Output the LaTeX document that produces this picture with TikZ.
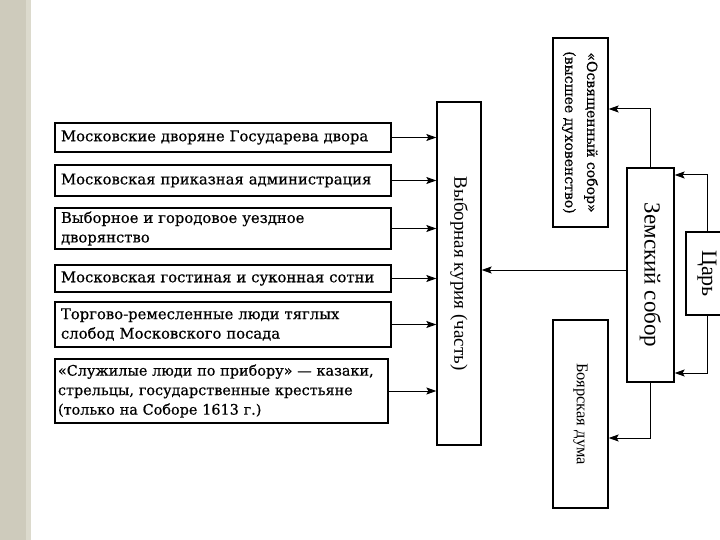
\documentclass[tikz,border=0pt]{standalone}
\usepackage{fontspec}
\setmainfont{Liberation Serif}
\newfontfamily\dvs[FakeBold=0.5]{DejaVu Serif}
\usetikzlibrary{arrows.meta}
\tikzset{
  lbox/.style={draw, line width=1.4pt, inner xsep=6pt, inner ysep=0pt, align=left,
     font=\dvs\fontsize{14.8}{19.5}\selectfont, minimum height=#1, anchor=center},
  vbox/.style={draw, line width=1.3pt, inner sep=0pt, anchor=center},
  arr/.style={line width=1pt, -{Stealth[length=10pt,width=7pt,inset=2pt]}},
}
\begin{document}
\begin{tikzpicture}[x=1pt,y=-1pt]
\useasboundingbox (0,0) rectangle (720,540);
\fill[white] (0,0) rectangle (720,540);
\fill[fill={rgb,255:red,206;green,203;blue,188}] (0,0) rectangle (26,540);
\fill[fill={rgb,255:red,220;green,218;blue,205}] (26,0) rectangle (31,540);

\node[lbox=29pt, text width=324pt] (b1) at (223,137.5) {Московские дворяне Государева двора};
\node[lbox=31pt, text width=324pt] (b2) at (223,180.5) {Московская приказная администрация};
\node[lbox=41pt, text width=324pt] (b3) at (223,228.5) {Выборное и городовое уездное\\дворянство};
\node[lbox=27pt, text width=324pt] (b4) at (223,278.5) {Московская гостиная и суконная сотни};
\node[lbox=45pt, text width=324pt] (b5) at (223,324.5) {Торгово-ремесленные люди тяглых\\слобод Московского посада};
\node[lbox=64pt, text width=327pt, inner xsep=3pt, font=\dvs\fontsize{14.4}{19.5}\selectfont] (b6) at (221.5,391) {«Служилые люди по прибору» — казаки,\\стрельцы, государственные крестьяне\\(только на Соборе 1613 г.)};

\node[vbox, minimum width=44pt, minimum height=343pt, font=\fontsize{19}{22}\selectfont] (cur) at (459,273.5) {\rotatebox{-90}{Выборная курия (часть)}};
\node[vbox, minimum width=47pt, minimum height=214pt, font=\fontsize{23}{25}\selectfont] (zem) at (650.5,275) {\rotatebox{-90}{Земский собор}};
\node[vbox, minimum width=55pt, minimum height=189pt, font=\dvs\fontsize{14}{22}\selectfont] (osv) at (580.5,132.5) {\rotatebox{-90}{\begin{tabular}{@{}c@{}}«Освященный собор»\\(высшее духовенство)\end{tabular}}};
\node[vbox, minimum width=55pt, minimum height=188pt, font=\fontsize{16.5}{18}\selectfont] (boy) at (580.5,414) {\rotatebox{-90}{Боярская дума}};
\node[vbox, minimum width=42pt, minimum height=83pt, font=\fontsize{22}{24}\selectfont] (tsar) at (707,273.5) {\rotatebox{-90}{Царь}};

\foreach \b in {b1,b2,b3,b4,b5,b6}
  \draw[arr] (\b.east) -- (\b.east -| cur.west);
\draw[arr] ([yshift=5pt]zem.west) -- ([yshift=5pt]zem.west -| cur.east);
\draw[arr] (zem.north) |- ([yshift=23.5pt]osv.east);
\draw[arr] (zem.south) |- ([yshift=-24pt]boy.east);
\draw[arr] (tsar.north) |- ([yshift=100pt]zem.east);
\draw[arr] (tsar.south) |- ([yshift=-98pt]zem.east);
\end{tikzpicture}
\end{document}
